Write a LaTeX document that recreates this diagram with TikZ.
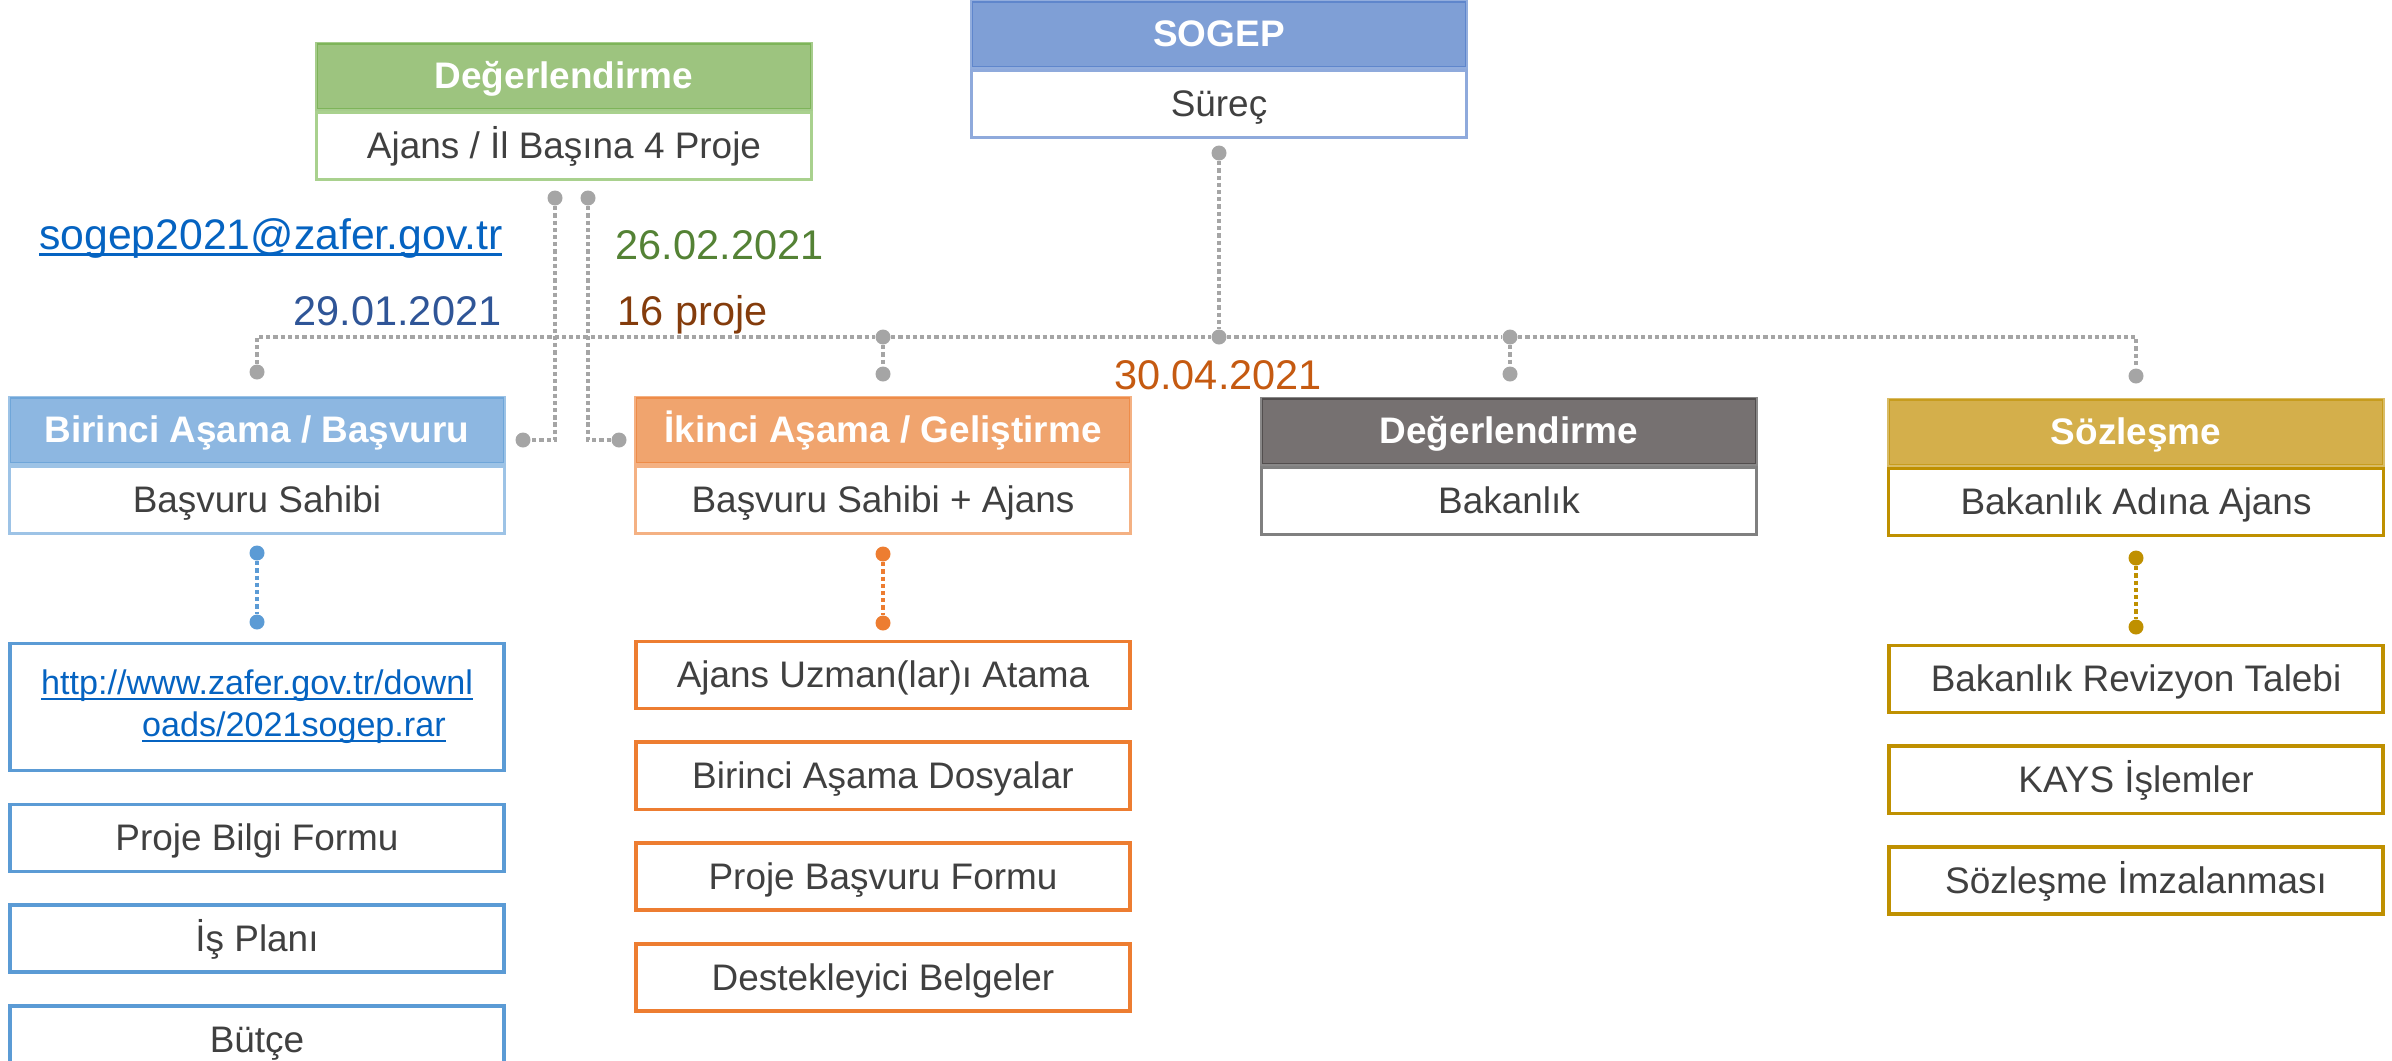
\documentclass[tikz,border=0pt]{standalone}
\usepackage{fontspec}
\setmainfont{Liberation Sans}
\usetikzlibrary{positioning}

\definecolor{ink}{HTML}{404040}
\definecolor{linkgray}{HTML}{A5A5A5}
\definecolor{urlblue}{HTML}{0563C1}
\definecolor{sogepfill}{HTML}{7F9FD6}
\definecolor{sogeprule}{HTML}{4A76C6}
\definecolor{sogepframe}{HTML}{8FAADC}
\definecolor{evalfill}{HTML}{9DC47F}
\definecolor{evalrule}{HTML}{6AAA40}
\definecolor{evalframe}{HTML}{A9D18E}
\definecolor{firstfill}{HTML}{8DB7E1}
\definecolor{firstrule}{HTML}{5B9BD5}
\definecolor{firstframe}{HTML}{9DC3E6}
\definecolor{secondfill}{HTML}{F0A46E}
\definecolor{secondrule}{HTML}{ED7D31}
\definecolor{secondframe}{HTML}{F4B183}
\definecolor{minfill}{HTML}{767171}
\definecolor{minrule}{HTML}{3A3838}
\definecolor{minframe}{HTML}{808080}
\definecolor{dealfill}{HTML}{D4AF4B}
\definecolor{dealrule}{HTML}{BF9000}
\definecolor{datefirst}{HTML}{2F5597}
\definecolor{datesecond}{HTML}{548235}
\definecolor{datecount}{HTML}{843C0C}
\definecolor{dateend}{HTML}{C55A11}

% underlined link text, rule close to the baseline
\newcommand\linktext[1]{\setbox0\hbox{#1}\rlap{\rule[-0.16em]{\wd0}{0.06em}}\box0}

\tikzset{
  capline/.style={text height=0.716em, text depth=0pt},
  stagehead/.style 2 args={draw=#2, draw opacity=0.6, fill=#1, line width=0.9pt, minimum width=4.94cm, minimum height=0.66cm,
    inner sep=0pt, text=white, font=\fontsize{10.5}{12.6}\selectfont\bfseries, capline},
  stagebody/.style={draw=#1, fill=white, line width=0.9pt, minimum width=4.94cm, minimum height=0.67cm,
    inner sep=0pt, text=ink, font=\fontsize{10.5}{12.6}\selectfont, capline},
  task/.style={draw=#1, line width=1.1pt, minimum width=4.93cm, minimum height=0.67cm,
    inner sep=0pt, text=ink, font=\fontsize{10.5}{12.6}\selectfont, capline},
  dot/.style={circle, fill=#1, inner sep=0pt, minimum size=0.15cm},
  link/.style={draw=#1, line width=0.9pt, dash pattern=on 1.2pt off 0.85pt},
  datefont/.style={font=\fontsize{11.8}{14}\selectfont, inner sep=0pt},
}

\begin{document}
\begin{tikzpicture}[x=0.01cm, y=-0.01cm, node distance=0.3cm]
\useasboundingbox (0,0) rectangle (2392,1060);

% process head
\node[stagebody=sogepframe] (sogepbody) at (1219,104) {Süreç};
\node[stagehead={sogepfill}{sogeprule}, above=0pt of sogepbody] (sogephead) {SOGEP};

\node[stagebody=evalframe] (evalbody) at (564,146) {Ajans / İl Başına 4 Proje};
\node[stagehead={evalfill}{evalrule}, above=0pt of evalbody] (evalhead) {Değerlendirme};

% the four stages
\node[stagebody=firstframe] (firstbody) at (257,500) {Başvuru Sahibi};
\node[stagehead={firstfill}{firstrule}, above=0pt of firstbody] (firsthead) {Birinci Aşama / Başvuru};

\node[stagebody=secondframe] (secondbody) at (883,500) {Başvuru Sahibi + Ajans};
\node[stagehead={secondfill}{secondrule}, above=0pt of secondbody] (secondhead) {İkinci Aşama / Geliştirme};

\node[stagebody=minframe] (minbody) at (1509,501) {Bakanlık};
\node[stagehead={minfill}{minrule}, above=0pt of minbody] (minhead) {Değerlendirme};

\node[stagebody=dealrule] (dealbody) at (2136,502) {Bakanlık Adına Ajans};
\node[stagehead={dealfill}{dealrule}, above=0pt of dealbody] (dealhead) {Sözleşme};

% dates
\node[datefont, font=\fontsize{12.15}{14}\selectfont, text=urlblue, anchor=base east] (mail) at (503,249) {\linktext{sogep2021@zafer.gov.tr}};
\node[datefont, text=datesecond, anchor=base west] (secondday) at (615,259) {26.02.2021};
\node[datefont, text=datefirst, anchor=base east] (firstday) at (502,325) {29.01.2021};
\node[datefont, text=datecount, anchor=base west] (count) at (617,325) {16 proje};
\node[datefont, text=dateend, anchor=base] (endday) at (1218,389) {30.04.2021};

% gray links
\node[dot=linkgray] (sogepdot) at (1219,153) {};
\node[dot=linkgray] (hub) at (1219,337) {};
\node[dot=linkgray] (hubsecond) at (883,337) {};
\node[dot=linkgray] (hubmin) at (1510,337) {};
\node[dot=linkgray] (tipfirst) at (257,372) {};
\node[dot=linkgray] (tipsecond) at (883,374) {};
\node[dot=linkgray] (tipmin) at (1510,374) {};
\node[dot=linkgray] (tipdeal) at (2136,376) {};
\draw[link=linkgray] (sogepdot) -- (hub);
\draw[link=linkgray] (tipfirst) |- (hubsecond) -- (hub) -- (hubmin) -| (tipdeal);
\draw[link=linkgray] (hubsecond) -- (tipsecond);
\draw[link=linkgray] (hubmin) -- (tipmin);

\node[dot=linkgray] (evaldotL) at (555,198) {};
\node[dot=linkgray] (evaldotR) at (588,198) {};
\node[dot=linkgray] (firstend) at (523,440) {};
\node[dot=linkgray] (secondend) at (619,440) {};
\draw[link=linkgray] (evaldotL) |- (firstend);
\draw[link=linkgray] (evaldotR) |- (secondend);

% first stage tasks
\node[dot=firstrule] (firstA) at (257,553) {};
\node[dot=firstrule] (firstB) at (257,622) {};
\draw[link=firstrule] (firstA) -- (firstB);
\node[draw=firstrule, line width=1.1pt, minimum width=4.93cm, minimum height=1.27cm, inner sep=0pt,
  text=urlblue, align=left, font=\fontsize{9.7}{11.95}\selectfont] (url) at (257,707)
  {\linktext{http://www.zafer.gov.tr/downl}\\\hspace*{1.01cm}\linktext{oads/2021sogep.rar}};
\node[task=firstrule, below=of url] (infoform) {Proje Bilgi Formu};
\node[task=firstrule, below=of infoform] (workplan) {İş Planı};
\node[task=firstrule, below=of workplan] (budget) {Bütçe};

% second stage tasks
\node[dot=secondrule] (secondA) at (883,554) {};
\node[dot=secondrule] (secondB) at (883,623) {};
\draw[link=secondrule] (secondA) -- (secondB);
\node[task=secondrule] (expert) at (883,675) {Ajans Uzman(lar)ı Atama};
\node[task=secondrule, below=of expert] (firstfiles) {Birinci Aşama Dosyalar};
\node[task=secondrule, below=of firstfiles] (appform) {Proje Başvuru Formu};
\node[task=secondrule, below=of appform] (support) {Destekleyici Belgeler};

% contract tasks
\node[dot=dealrule] (dealA) at (2136,558) {};
\node[dot=dealrule] (dealB) at (2136,627) {};
\draw[link=dealrule] (dealA) -- (dealB);
\node[task=dealrule] (revision) at (2136,679) {Bakanlık Revizyon Talebi};
\node[task=dealrule, below=of revision] (kays) {KAYS İşlemler};
\node[task=dealrule, below=of kays] (signing) {Sözleşme İmzalanması};
\end{tikzpicture}
\end{document}
